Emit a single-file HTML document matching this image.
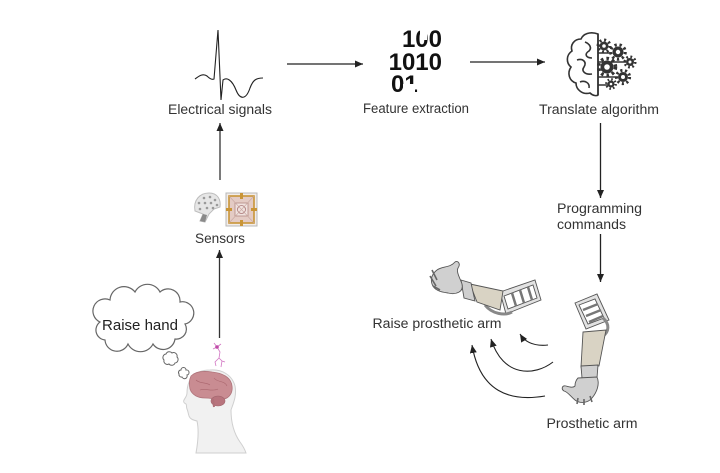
<!DOCTYPE html>
<html>
<head>
<meta charset="utf-8">
<style>
  html,body{margin:0;padding:0;background:#fff;}
  svg{display:block;}
  text{font-family:"Liberation Sans",Arial,sans-serif;fill:#333;}
</style>
</head>
<body>
<svg width="720" height="473" viewBox="0 0 720 473" xmlns="http://www.w3.org/2000/svg">
  <defs>
    <marker id="ah" markerUnits="userSpaceOnUse" markerWidth="9" markerHeight="8" refX="8" refY="3.5" orient="auto">
      <path d="M0,0 L8,3.5 L0,7 z" fill="#222"/>
    </marker>
  </defs>
  <rect width="720" height="473" fill="#fff"/>

  <!-- ECG signal -->
  <path d="M195,79 C199,76 203,73 207,76 C210,79 212,80 214,79 L218,30 L221,100 L223,80 C227,77 232,80 236,90 C240,100 246,100 250,88 C253,80 256,78 263,78" fill="none" stroke="#222" stroke-width="1.1"/>
  <text x="220" y="114" font-size="13.5" text-anchor="middle" textLength="104" lengthAdjust="spacingAndGlyphs">Electrical signals</text>

  <!-- arrow ECG -> binary -->
  <line x1="287" y1="64" x2="363" y2="64" stroke="#222" stroke-width="1.3" marker-end="url(#ah)"/>

  <!-- binary digits -->
  <g font-family="Liberation Sans, Arial, sans-serif" font-weight="bold" font-size="24">
    <text x="442" y="47" text-anchor="end" style="fill:#111">100</text>
    <rect x="420" y="28" width="7" height="12" fill="#fff"/>
    <text x="442" y="70" text-anchor="end" style="fill:#111">1010</text>
    <text x="391" y="92" style="fill:#111">01</text>
    <rect x="403" y="84" width="12" height="10" fill="#fff"/>
  </g>
  <text x="416" y="113" font-size="13.5" text-anchor="middle" textLength="106" lengthAdjust="spacingAndGlyphs">Feature extraction</text>

  <!-- arrow binary -> brain -->
  <line x1="470" y1="62" x2="545" y2="62" stroke="#222" stroke-width="1.3" marker-end="url(#ah)"/>

  <!-- brain + gears icon -->
  <g stroke="#333" stroke-width="1.6" fill="none">
    <path d="M598,34 C590,31 583,34 581,39 C574,39 570,45 572,51 C566,55 566,63 571,67 C567,73 569,81 576,83 C576,90 583,95 590,93 C593,96 597,96 598,95 Z"/>
    <path d="M598,34 L598,95"/>
    <path d="M585,42 C590,44 592,48 589,51 C584,54 586,58 592,58"/>
    <path d="M577,60 C583,58 587,62 584,67 C581,71 585,75 592,74"/>
    <path d="M580,82 C585,80 590,83 589,88"/>
    <path d="M598,46 L604,46 M598,53 L612,53 M598,62 L626,62 M598,70 L604,70 M598,77 L618,77 M598,85 L608,85"/>
  </g>
  <g fill="#333">
    <circle cx="604" cy="46" r="4.5"/><circle cx="604" cy="46" r="6" fill="none" stroke="#333" stroke-width="3" stroke-dasharray="2 2.7"/>
    <circle cx="618" cy="52" r="5.5"/><circle cx="618" cy="52" r="7.3" fill="none" stroke="#333" stroke-width="3" stroke-dasharray="2.3 2.8"/>
    <circle cx="607" cy="67" r="6.5"/><circle cx="607" cy="67" r="8.5" fill="none" stroke="#333" stroke-width="3.5" stroke-dasharray="2.6 3"/>
    <circle cx="630" cy="62" r="4"/><circle cx="630" cy="62" r="5.3" fill="none" stroke="#333" stroke-width="2.5" stroke-dasharray="1.8 2.4"/>
    <circle cx="623" cy="77" r="5"/><circle cx="623" cy="77" r="6.6" fill="none" stroke="#333" stroke-width="3" stroke-dasharray="2.1 2.6"/>
    <circle cx="611" cy="84" r="3.5"/><circle cx="611" cy="84" r="4.7" fill="none" stroke="#333" stroke-width="2.3" stroke-dasharray="1.6 2.1"/>
  </g>
  <g fill="#fff">
    <circle cx="604" cy="46" r="1.8"/><circle cx="618" cy="52" r="2.2"/><circle cx="607" cy="67" r="2.8"/>
    <circle cx="630" cy="62" r="1.5"/><circle cx="623" cy="77" r="2"/><circle cx="611" cy="84" r="1.3"/>
  </g>
  <text x="599" y="114" font-size="13.5" text-anchor="middle" textLength="120" lengthAdjust="spacingAndGlyphs">Translate algorithm</text>

  <!-- arrows down on right -->
  <line x1="600.5" y1="123" x2="600.5" y2="198" stroke="#222" stroke-width="1.3" marker-end="url(#ah)"/>
  <text x="557" y="213" font-size="13.5" textLength="85" lengthAdjust="spacingAndGlyphs">Programming</text>
  <text x="557" y="229" font-size="13.5" textLength="69" lengthAdjust="spacingAndGlyphs">commands</text>
  <line x1="600.5" y1="234" x2="600.5" y2="282" stroke="#222" stroke-width="1.3" marker-end="url(#ah)"/>

  <!-- arrow sensors -> electrical -->
  <line x1="220" y1="180" x2="220" y2="123" stroke="#333" stroke-width="1.3" marker-end="url(#ah)"/>

  <!-- helmet icon -->
  <path d="M195,211 C193,200 200,193 209,193 C218,193 221,200 220,207 L214,209 L209,214 L205,222 L200,221 L203,214 Z" fill="#e6e6e6" stroke="#bdbdbd" stroke-width="1"/>
  <path d="M205,222 L200,221 L203,214 L207,215 Z" fill="#8a8a8a"/>
  <g fill="#9a9a9a">
    <circle cx="204" cy="198" r="1.3"/><circle cx="210" cy="197" r="1.3"/><circle cx="215" cy="200" r="1.3"/>
    <circle cx="199" cy="203" r="1.3"/><circle cx="205" cy="203" r="1.3"/><circle cx="211" cy="203" r="1.3"/><circle cx="217" cy="205" r="1.3"/>
    <circle cx="200" cy="209" r="1.3"/><circle cx="207" cy="208" r="1.3"/><circle cx="213" cy="208" r="1.3"/>
  </g>
  <!-- chip icon -->
  <rect x="226" y="193" width="31" height="33" fill="#f2ece9" stroke="#b8b8b8" stroke-width="1"/>
  <rect x="229" y="196" width="25" height="27" fill="#e4cbc4" stroke="#c99537" stroke-width="1.6"/>
  <rect x="235" y="203" width="13" height="13" fill="#f0e2de" stroke="#b48a82" stroke-width="0.8"/>
  <circle cx="241.5" cy="209.5" r="4" fill="none" stroke="#a77" stroke-width="0.8"/>
  <path d="M229,196 L254,223 M254,196 L229,223" stroke="#c9a9a2" stroke-width="0.6"/>
  <g fill="#c99537">
    <rect x="240" y="193" width="3" height="6"/><rect x="240" y="220" width="3" height="6"/>
    <rect x="226" y="208" width="6" height="3"/><rect x="251" y="208" width="6" height="3"/>
  </g>
  <text x="220" y="243" font-size="13.5" text-anchor="middle" textLength="50" lengthAdjust="spacingAndGlyphs">Sensors</text>

  <!-- arrow head -> sensors -->
  <line x1="219.5" y1="338" x2="219.5" y2="250" stroke="#333" stroke-width="1.3" marker-end="url(#ah)"/>

  <!-- thought cloud -->
  <path d="M105,340 a10,10 0 0 1 -5,-18 a12,12 0 0 1 10,-22 a14,14 0 0 1 25,-8 a14,14 0 0 1 25,0 a12,12 0 0 1 20,10 a10,10 0 0 1 5,22 a10,10 0 0 1 -10,15 a12,12 0 0 1 -22,5 a14,14 0 0 1 -25,0 a12,12 0 0 1 -23,-4 z" fill="#fff" stroke="#666" stroke-width="1.2"/>
  <text x="140" y="330" font-size="15" text-anchor="middle" textLength="76" lengthAdjust="spacingAndGlyphs" style="fill:#222">Raise hand</text>
  <path d="M164,360 a3.5,3.5 0 0 1 2,-6 a3.5,3.5 0 0 1 6,-1 a3.5,3.5 0 0 1 5,4 a3.5,3.5 0 0 1 -2,6 a3.5,3.5 0 0 1 -6,1 a3.5,3.5 0 0 1 -5,-4 z" fill="#fff" stroke="#666" stroke-width="1"/>
  <path d="M179,374 a2.5,2.5 0 0 1 2,-4 a2.5,2.5 0 0 1 5,0 a2.5,2.5 0 0 1 1,5 a2.5,2.5 0 0 1 -5,2 a2.5,2.5 0 0 1 -3,-3 z" fill="#fff" stroke="#666" stroke-width="1"/>

  <!-- neuron -->
  <g stroke="#d277c3" stroke-width="0.8" fill="none">
    <path d="M217,347 L214,343 M217,347 L221,344 M217,347 L213,349 M217,347 L220,352 L219,358 L222,361 L221,367 M219,358 L215,362 L216,366 M222,361 L225,362"/>
  </g>
  <circle cx="217" cy="347" r="1.8" fill="#c04aa8"/>

  <!-- head -->
  <path d="M210,370 C222,369 232,375 235,386 C237,396 233,404 231,410 C231,420 233,432 240,442 C243,446 245,450 246,453 L196,453 C198,442 199,430 197,421 C193,420 190,419 189,416 C188,413 188,411 187,409 C186,407 187,405 186,404 C184,403 183,402 184,400 C185,398 187,396 187,393 C187,388 188,383 191,378 C196,372 203,370 210,370 Z" fill="#f1f1f1" stroke="#cfcfcf" stroke-width="1"/>
  <path d="M191,376 C196,371 205,371 212,372 C222,373 231,377 232,386 C233,393 229,398 224,399 C217,400 212,398 205,398 C198,398 192,395 190,389 C189,384 189,380 191,376 Z" fill="#c98c92" stroke="#b0747b" stroke-width="0.8"/>
  <ellipse cx="218" cy="401" rx="7" ry="5" fill="#b8747d" stroke="#a0646c" stroke-width="0.6"/>
  <path d="M213,399 L214,407" stroke="#b07078" stroke-width="2"/>
  <path d="M196,380 C200,384 206,382 210,385 M214,378 C218,383 224,380 227,386 M200,390 C206,388 212,392 218,389" stroke="#a9656d" stroke-width="0.6" fill="none"/>

  <!-- raised prosthetic arm -->
  <g stroke="#555" stroke-width="0.9">
    <path d="M500,292 L535,280 L541,300 L506,314 Z" fill="#e2e2e2"/>
    <path d="M504,296 L533,285 L537,298 L508,309 Z" fill="#fff"/>
    <path d="M512,293 L516,306 M520,290 L524,303 M528,287 L532,300" stroke="#777" stroke-width="2.5"/>
    <path d="M485,305 C492,314 505,316 512,312" fill="none" stroke="#888" stroke-width="3"/>
    <path d="M470,284 L503,291 L500,310 L477,302 Z" fill="#d9d3c4"/>
    <path d="M461,280 L471,283 L475,301 L464,298 Z" fill="#cfcfcf"/>
    <path d="M437,270 C442,266 450,268 455,262 C458,260 461,264 458,268 C456,272 460,278 462,284 C464,292 456,295 448,293 C440,292 434,290 432,284 C430,278 433,273 437,270 Z" fill="#d0d0d0"/>
    <path d="M432,270 L437,280 M430,276 L436,286 M433,286 L440,290" stroke="#666" stroke-width="1.6"/>
  </g>

  <!-- lower prosthetic arm -->
  <g stroke="#555" stroke-width="0.9">
    <path d="M575,303 L597,294 L609,320 L586,329 Z" fill="#e2e2e2"/>
    <path d="M579,305 L595,299 L604,318 L588,324 Z" fill="#fff"/>
    <path d="M583,310 L598,304 M586,316 L601,310 M589,322 L603,316" stroke="#777" stroke-width="2.5"/>
    <path d="M603,318 C610,324 609,332 603,336" fill="none" stroke="#888" stroke-width="3"/>
    <path d="M583,332 L606,330 L599,366 L581,367 Z" fill="#d9d3c4"/>
    <path d="M581,366 L598,365 L597,378 L582,378 Z" fill="#cfcfcf"/>
    <path d="M578,378 L597,377 C600,384 597,392 592,398 C588,403 580,404 575,400 C570,396 568,392 564,391 C561,389 562,385 566,386 C570,387 573,388 575,386 C575,383 576,380 578,378 Z" fill="#d0d0d0"/>
    <path d="M578,398 L577,404 M584,399 L584,405 M590,396 L592,402" stroke="#666" stroke-width="1.6"/>
  </g>

  <text x="437" y="328" font-size="13.5" text-anchor="middle" textLength="129" lengthAdjust="spacingAndGlyphs">Raise prosthetic arm</text>
  <text x="592" y="428" font-size="13.5" text-anchor="middle" textLength="91" lengthAdjust="spacingAndGlyphs">Prosthetic arm</text>

  <!-- curved motion arrows -->
  <g fill="none" stroke="#222" stroke-width="1.1">
    <path d="M548,345 Q528,347 520,334" marker-end="url(#ah)"/>
    <path d="M553,362 C535,376 503,378 491,339" marker-end="url(#ah)"/>
    <path d="M545,396 C510,402 480,392 472,345" marker-end="url(#ah)"/>
  </g>
</svg>
</body>
</html>
